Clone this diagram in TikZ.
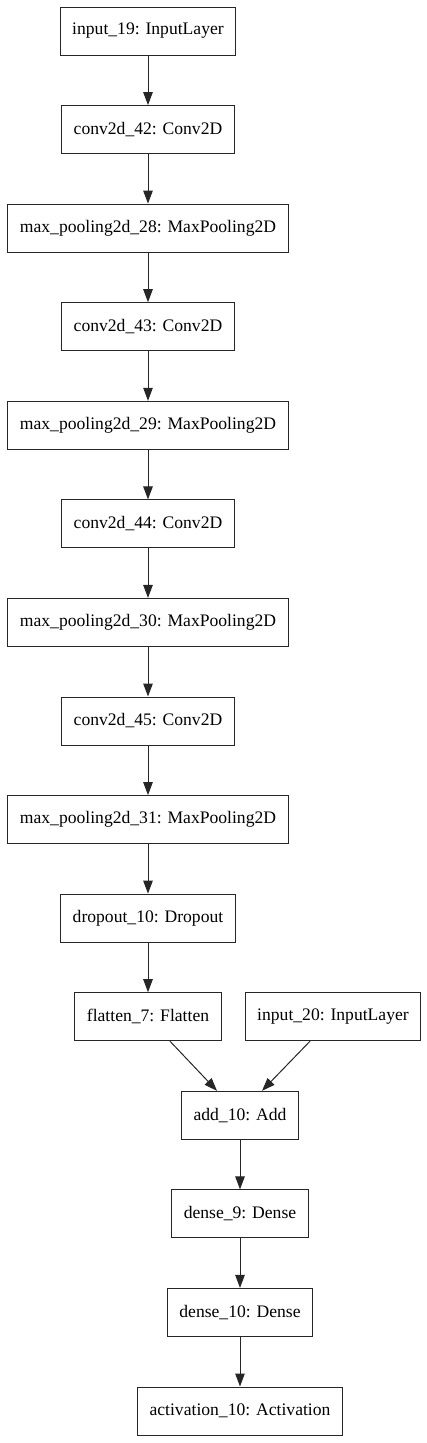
\documentclass[tikz,border=0pt]{standalone}
\usepackage{fontspec}
\setmainfont{Liberation Serif}
\usetikzlibrary{arrows.meta}

\begin{document}
\begin{tikzpicture}[x=1pt, y=-1pt,
	layer/.style={draw=black!85, line width=1pt, minimum height=48pt, inner xsep=12pt, font=\fontsize{17.6}{20}\selectfont},
	flow/.style={draw=black!85, line width=1pt, -{Triangle[length=13pt, width=9.5pt]}}]
	\useasboundingbox (0,0) rectangle (427,1443);
	% main chain
	\node[layer] (in19) at (148, 31.0) {input\_19: InputLayer};
	\node[layer] (c42) at (148, 129.6) {conv2d\_42: Conv2D};
	\node[layer] (mp28) at (148, 228.1) {max\_pooling2d\_28: MaxPooling2D};
	\node[layer] (c43) at (148, 326.7) {conv2d\_43: Conv2D};
	\node[layer] (mp29) at (148, 425.3) {max\_pooling2d\_29: MaxPooling2D};
	\node[layer] (c44) at (148, 523.9) {conv2d\_44: Conv2D};
	\node[layer] (mp30) at (148, 622.4) {max\_pooling2d\_30: MaxPooling2D};
	\node[layer] (c45) at (148, 721.0) {conv2d\_45: Conv2D};
	\node[layer] (mp31) at (148, 819.6) {max\_pooling2d\_31: MaxPooling2D};
	\node[layer] (do10) at (148, 918.1) {dropout\_10: Dropout};
	\node[layer] (fl7) at (148, 1016.7) {flatten\_7: Flatten};
	\node[layer] (in20) at (333.0, 1016.7) {input\_20: InputLayer};
	% merge and head
	\node[layer] (add10) at (240.0, 1115.3) {add\_10: Add};
	\node[layer] (d9) at (240.0, 1213.9) {dense\_9: Dense};
	\node[layer] (d10) at (240.0, 1312.4) {dense\_10: Dense};
	\node[layer] (act10) at (240.0, 1411.0) {activation\_10: Activation};

	\foreach \a/\b in {in19/c42, c42/mp28, mp28/c43, c43/mp29, mp29/c44, c44/mp30, mp30/c45, c45/mp31, mp31/do10, do10/fl7, add10/d9, d9/d10, d10/act10}
		\draw[flow] (\a) -- (\b);
	\draw[flow] (fl7.south -| 170,0) -- (add10.north -| 217,0);
	\draw[flow] (in20.south -| 310,0) -- (add10.north -| 262,0);
\end{tikzpicture}
\end{document}
